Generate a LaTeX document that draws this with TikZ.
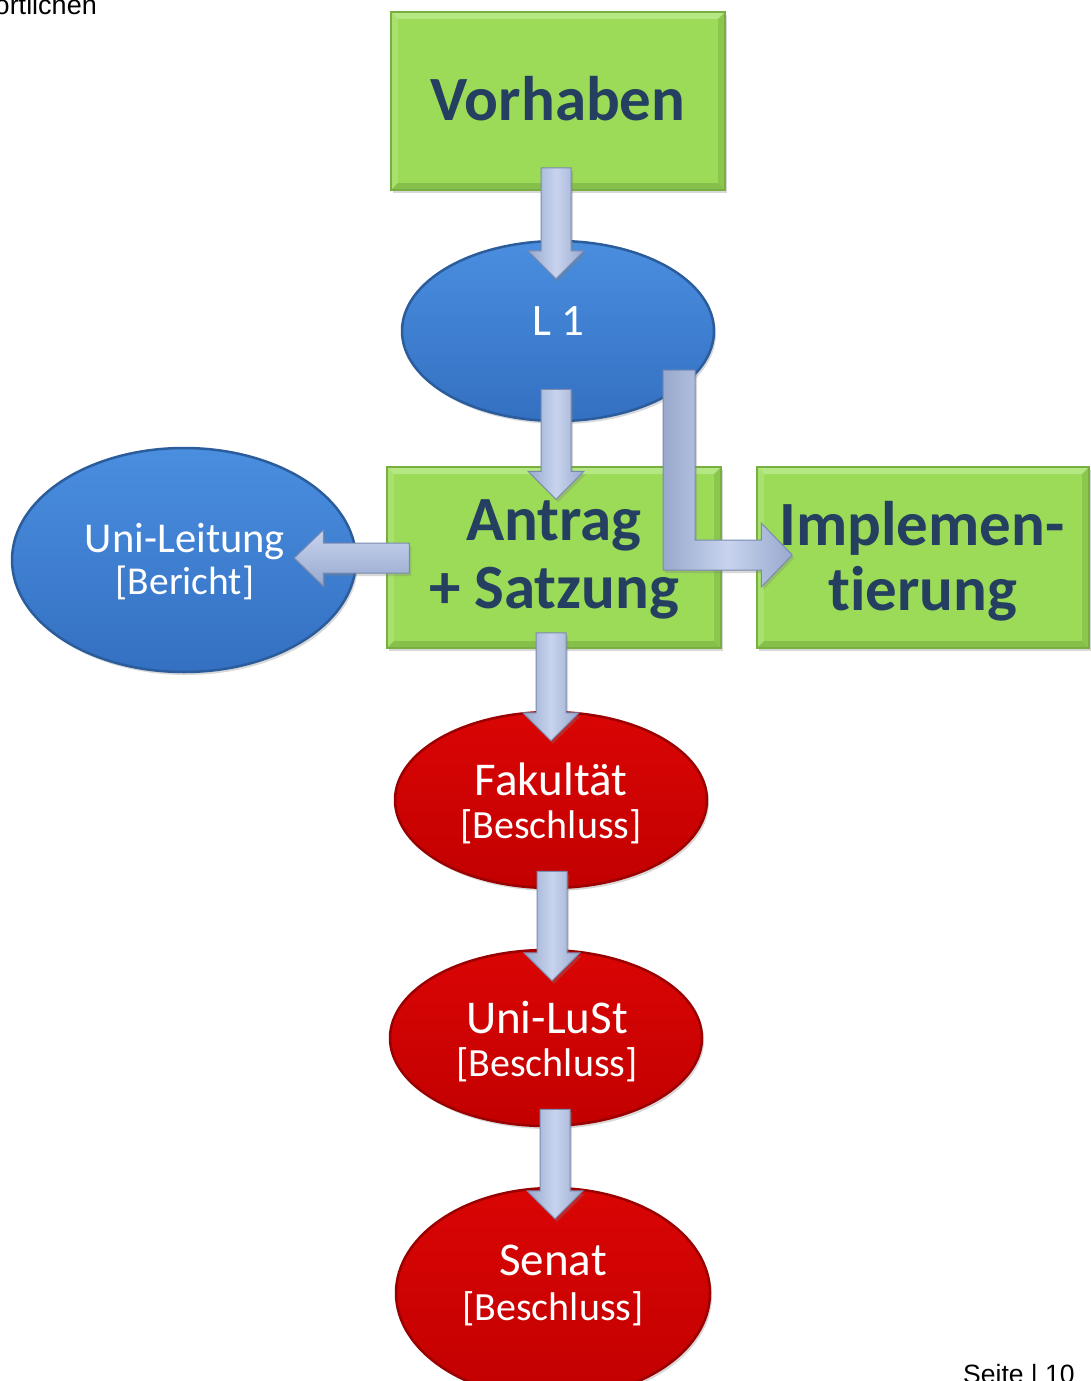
\documentclass[tikz,border=0pt]{standalone}
\usepackage{fontspec}
\setmainfont{Carlito}[RawFeature=-liga]
\newfontfamily\arialfont{Liberation Sans}
\usetikzlibrary{shapes.geometric,shadows,calc}
\definecolor{gfill}{HTML}{9BDB58}
\definecolor{glight}{HTML}{BCEB8E}
\definecolor{gdark}{HTML}{79AE41}
\definecolor{bluetop}{HTML}{4A8EDF}
\definecolor{bluebot}{HTML}{3470C2}
\definecolor{blueedge}{HTML}{2B5C9B}
\definecolor{redtop}{HTML}{DA0505}
\definecolor{redbot}{HTML}{C20000}
\definecolor{rededge}{HTML}{9A0000}
\definecolor{txtblue}{HTML}{243F60}
\definecolor{arrmid}{HTML}{C8D4EE}
\definecolor{arrside}{HTML}{98A9CE}
\definecolor{arredge}{HTML}{7A8AAF}
\tikzset{
  shade3d/.style={drop shadow={shadow xshift=2pt, shadow yshift=-3pt, opacity=0.3}},
  greenbox/.style={rectangle, fill=gfill, draw=gdark, line width=1.5pt, inner sep=0pt, shade3d,
    path picture={
      \fill[glight, opacity=0.8] (path picture bounding box.north west) -- (path picture bounding box.north east)
        -- ([xshift=-7pt,yshift=-7pt]path picture bounding box.north east) -- ([xshift=7pt,yshift=-7pt]path picture bounding box.north west) -- cycle;
      \fill[glight, opacity=0.4] (path picture bounding box.north west) -- ([xshift=7pt,yshift=-7pt]path picture bounding box.north west)
        -- ([xshift=7pt,yshift=7pt]path picture bounding box.south west) -- (path picture bounding box.south west) -- cycle;
      \fill[gdark, opacity=0.6] (path picture bounding box.south west) -- (path picture bounding box.south east)
        -- ([xshift=-7pt,yshift=7pt]path picture bounding box.south east) -- ([xshift=7pt,yshift=7pt]path picture bounding box.south west) -- cycle;
      \fill[gdark, opacity=0.45] (path picture bounding box.north east) -- ([xshift=-7pt,yshift=-7pt]path picture bounding box.north east)
        -- ([xshift=-7pt,yshift=7pt]path picture bounding box.south east) -- (path picture bounding box.south east) -- cycle;
    }},
  blueell/.style={ellipse, inner sep=0pt, top color=bluetop, bottom color=bluebot, draw=blueedge, line width=2.5pt, shade3d},
  redell/.style={ellipse, inner sep=0pt, top color=redtop, bottom color=redbot, draw=rededge, line width=2.5pt, shade3d},
  bt/.style={font=\bfseries\fontsize{63}{70}\selectfont, text=txtblue, inner sep=0pt, anchor=base},
  wt/.style={text=white, inner sep=0pt, anchor=base},
  blkarrow/.style={draw=arredge, line width=1pt, line join=miter, shade3d},
}
% vertical block arrow pointing down: #1 start, #2 tip
\newcommand\blkdown[2]{%
  \path[blkarrow, left color=arrside, right color=arrside, middle color=arrmid]
    ($(#2 |- #1)+(-15,0)$) -- ($(#2)+(-15,-28)$) -- ($(#2)+(-28,-28)$) -- (#2)
    -- ($(#2)+(28,-28)$) -- ($(#2)+(15,-28)$) -- ($(#2 |- #1)+(15,0)$) -- cycle;}
% horizontal block arrow pointing left: #1 start, #2 tip
\newcommand\blkleft[2]{%
  \path[blkarrow, top color=arrmid, bottom color=arrside]
    ($(#1 |- #2)+(0,-15)$) -- ($(#2)+(29,-15)$) -- ($(#2)+(29,-28)$) -- (#2)
    -- ($(#2)+(29,28)$) -- ($(#2)+(29,15)$) -- ($(#1 |- #2)+(0,15)$) -- cycle;}
\begin{document}
\begin{tikzpicture}[x=1pt,y=-1pt]
\fill[white] (0,0) rectangle (1091,1381);
\useasboundingbox (0,0) rectangle (1091,1381);

% header / footer texts
\node[font=\arialfont\fontsize{27}{30}\selectfont, anchor=base east, inner sep=0pt] (hdr) at (97,15) {ortlichen};
\node[font=\arialfont\fontsize{26.5}{30}\selectfont, anchor=base west, inner sep=0pt] (pg) at (963,1383) {Seite | 10};

% shapes
\node[greenbox, minimum width=334pt, minimum height=178pt] (vorh) at (558,101) {};
\node[blueell, minimum width=312pt, minimum height=180pt] (l1) at (558,331) {};
\node[greenbox, minimum width=334pt, minimum height=181pt] (antrag) at (554,557.5) {};
\node[greenbox, minimum width=332pt, minimum height=181pt] (impl) at (923,557.5) {};
\node[blueell, minimum width=344pt, minimum height=224pt] (unil) at (184,560) {};
\node[redell, minimum width=312pt, minimum height=176pt] (fak) at (551,800) {};
\node[redell, minimum width=312pt, minimum height=176pt] (lust) at (546,1038) {};
\node[redell, minimum width=314pt, minimum height=210pt] (senat) at (553,1293) {};

% texts
\node[bt] (tvorh) at (558,120) {Vorhaben};
\node[wt, font=\fontsize{45}{50}\selectfont] (tl1) at (558,335) {L 1};
\node[bt] (tantrag) at (554,540) {Antrag};
\node[bt] (tsatz) at (554,608) {+ Satzung};
\node[bt] (timpl) at (922,545) {Implemen-};
\node[bt] (tier) at (923,610) {tierung};
\node[wt, font=\fontsize{42.5}{48}\selectfont] (tunil) at (185,552) {Uni-Leitung};
\node[wt, font=\fontsize{39.5}{45}\selectfont] (tber) at (185,594) {[Bericht]};
\node[wt, font=\fontsize{47}{52}\selectfont] (tfak) at (551,795) {Fakultät};
\node[wt, font=\fontsize{40}{45}\selectfont] (tfakb) at (551,838) {[Beschluss]};
\node[wt, font=\fontsize{47}{52}\selectfont] (tlust) at (547,1033) {Uni-LuSt};
\node[wt, font=\fontsize{40}{45}\selectfont] (tlustb) at (547,1076) {[Beschluss]};
\node[wt, font=\fontsize{47}{52}\selectfont] (tsen) at (553,1275) {Senat};
\node[wt, font=\fontsize{40}{45}\selectfont] (tsenb) at (553,1320) {[Beschluss]};

% connector end points
\coordinate (a1s) at ($(vorh.south)+(-2,-23)$);
\coordinate (a1t) at ($(l1.north)+(-2,39)$);
\coordinate (a2s) at ($(l1.south)+(-2,-33)$);
\coordinate (a2t) at ($(antrag.north)+(2,33)$);
\coordinate (a3s) at ($(antrag.west)+(23,0)$);
\coordinate (a3t) at ($(unil.east)+(-63,-2)$);
\coordinate (a4s) at ($(antrag.south)+(-3,-16)$);
\coordinate (a4t) at ($(fak.north)+(0,30)$);
\coordinate (a5s) at ($(fak.south)+(1,-18)$);
\coordinate (a5t) at ($(lust.north)+(6,32)$);
\coordinate (a6s) at ($(lust.south)+(9,-18)$);
\coordinate (a6t) at ($(senat.north)+(2,32)$);
\coordinate (a7s) at ($(l1.center)+(121,39)$);
\coordinate (a7t) at ($(impl.west)+(36,-2.5)$);
\coordinate (a7c) at (a7s |- a7t);

% connectors (block arrows)
\blkdown{a1s}{a1t}
\blkdown{a2s}{a2t}
\blkleft{a3s}{a3t}
\blkdown{a4s}{a4t}
\blkdown{a5s}{a5t}
\blkdown{a6s}{a6t}
\path[blkarrow, left color=arrside, right color=arrside, middle color=arrmid]
  ($(a7s)+(-16,0)$) -- ($(a7c)+(-16,15)$) -- ($(a7t)+(-31,15)$) -- ($(a7t)+(-31,32)$) -- (a7t)
  -- ($(a7t)+(-31,-32)$) -- ($(a7t)+(-31,-15)$) -- ($(a7c)+(16,-15)$) -- ($(a7s)+(16,0)$) -- cycle;
\end{tikzpicture}
\end{document}
